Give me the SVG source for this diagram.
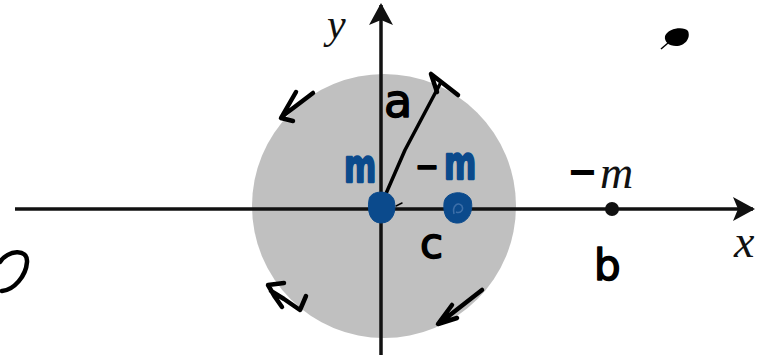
<svg xmlns="http://www.w3.org/2000/svg" width="758" height="360" viewBox="0 0 758 360">
<style>
.axis{stroke:#111;stroke-width:3.5;fill:none}
.ink{stroke:#000;stroke-width:4.5;fill:none;stroke-linecap:round;stroke-linejoin:round}
.tex{font-family:"Liberation Serif","Times New Roman",serif;font-style:italic;fill:#111}
.hand{font-family:"DejaVu Sans",sans-serif;fill:#000;stroke:#000;stroke-width:1.5;stroke-linejoin:round}
.blue{fill:#0b4a8c;stroke:#0b4a8c}
</style>
<defs>
<marker id="ah" markerWidth="22" markerHeight="24" refX="20" refY="12" orient="auto" markerUnits="userSpaceOnUse">
<path d="M0,0 L22,12 L0,24 L5,12 Z" fill="#111"/>
</marker>
</defs>
<rect width="758" height="360" fill="#fff"/>
<g id="disk"><circle cx="384" cy="206" r="132" fill="#c0c0c0"/></g>
<g id="connectors">
<line class="axis" x1="15" y1="209" x2="753" y2="209" marker-end="url(#ah)"/>
<line class="axis" x1="381" y1="355" x2="381" y2="5" marker-end="url(#ah)"/>
<path class="ink" d="M381,205 L405,150 L440,84" style="stroke-width:3.5"/>
<path class="ink" d="M458,95 L431,74 L437,92"/>
<path class="ink" d="M396,206 L402,203" style="stroke-width:1.5"/>
</g>
<g id="labels">
<text class="tex" x="327" y="38" font-size="42">y</text>
<text class="tex" x="734" y="257" font-size="46">x</text>
<text x="569" y="188" font-size="46"><tspan font-family="Liberation Sans,sans-serif" font-weight="bold" font-size="46" fill="#000">−</tspan><tspan class="tex" dx="4">m</tspan></text>
</g>
<g id="point-b"><circle cx="612" cy="209" r="7" fill="#111"/></g>
<g id="hand-labels">
<text class="hand" x="384" y="117" font-size="46">a</text>
<text class="hand" x="420" y="258" font-size="42">c</text>
<text class="hand" x="594" y="280" font-size="42">b</text>
<text class="hand blue" transform="translate(344,182) scale(1,1.5)" font-size="31" font-weight="bold">m</text>
<text class="hand" x="416" y="180" font-size="44">–</text>
<text class="hand blue" transform="translate(444,179) scale(1,1.5)" font-size="31" font-weight="bold">m</text>
</g>
<g id="masses">
<path class="blue" d="M369,200 C370,190 390,189 394,200 C397,211 393,223 381,223 C370,223 367,211 369,200 Z"/>
<path class="blue" d="M444,203 C445,191 466,189 471,200 C474,211 468,224 456,223 C446,222 443,213 444,203 Z"/>
<path d="M454,214 C452,206 458,201 462,206 C464,210 460,214 456,212" stroke="#3d6fa8" stroke-width="1.5" fill="none"/>
</g>
<g id="rotation-arrows">
<path class="ink" d="M313,93 L284,115 M296,92 L281,118 L293,121"/>
<path class="ink" d="M284,283 L268,285 L275,297 L282,307 M271,291 L284,299 L300,310 L306,296"/>
<path class="ink" d="M482,290 L441,322 M452,305 L438,324 L457,318"/>
</g>
<g id="marks">
<path class="ink" d="M0,262 C8,250 28,248 27,262 C26,276 14,290 2,291"/>
<path d="M665,36 C668,28 684,26 688,31 C691,38 685,46 676,46 C669,46 664,42 665,36 Z" fill="#000"/>
<path d="M668,43 L661,49" stroke="#000" stroke-width="1.5"/>
</g>
</svg>
